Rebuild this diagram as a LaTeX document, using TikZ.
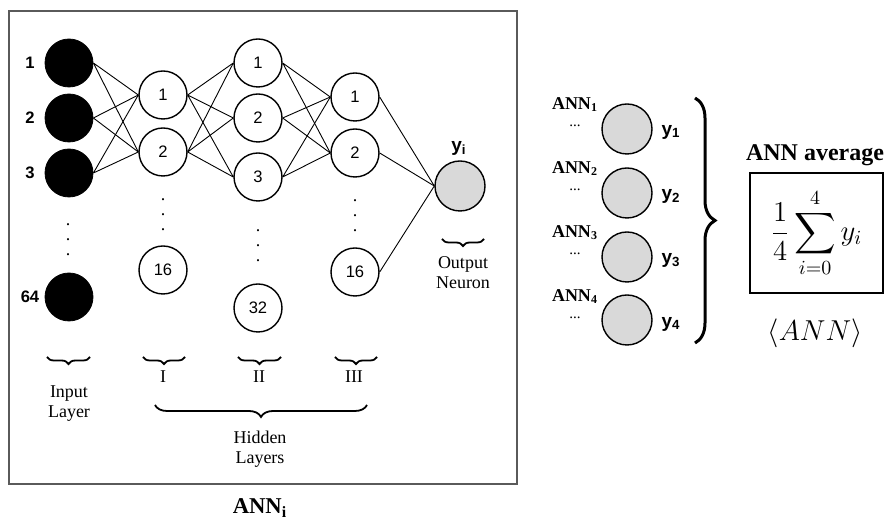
\documentclass[tikz,border=0pt]{standalone}
\usepackage{amsmath}
\usepackage{exscale}
\usepackage{fontspec}
\setmainfont{Liberation Serif}
\setsansfont{Liberation Sans}
\usepackage{tikz}
\usetikzlibrary{positioning,decorations.pathreplacing}
\definecolor{neurongray}{HTML}{D9D9D9}
\definecolor{framegray}{HTML}{5A5A5A}

\begin{document}
\begin{tikzpicture}[
  x=0.5pt, y=-0.5pt,
  inp/.style={draw, circle, fill=black, minimum size=24pt, inner sep=0pt},
  hid/.style={draw, circle, fill=white, line width=0.7pt, minimum size=24pt, inner sep=0pt, font=\sffamily\fontsize{8.3}{10}\selectfont},
  outn/.style={draw, circle, fill=neurongray, line width=0.7pt, minimum size=25pt, inner sep=0pt},
  num/.style={font=\sffamily\bfseries\fontsize{8.3}{10}\selectfont},
  ylbl/.style={font=\sffamily\bfseries\fontsize{9.5}{11}\selectfont},
  txt/.style={align=center, font=\fontsize{9}{10}\selectfont},
  annlbl/.style={font=\bfseries\fontsize{9}{10}\selectfont},
  vdot/.style={align=center, inner sep=0pt, font=\fontsize{9}{7.5}\selectfont},
  conn/.style={line width=0.45pt},
  brc/.style={decorate, decoration={brace, mirror, amplitude=3.5pt}, line width=0.9pt}]
  \useasboundingbox (0,0) rectangle (890,522);
  \draw[framegray, line width=0.6pt] (9,11) rectangle (517,484);
  % input layer
  \node[inp] (in1) at (69,63) {};
  \node[inp] (in2) at (69,118) {};
  \node[inp] (in3) at (69,173) {};
  \node[inp] (in64) at (69,297) {};
  \node[vdot] (vdin) at (68,240) {.\\.\\.};
  \node[num] (n1) at (30,63) {1};
  \node[num] (n2) at (30,118) {2};
  \node[num] (n3) at (30,173) {3};
  \node[num] (n64) at (30,297) {64};
  % hidden layers
  \node[hid] (ha1) at (163,95) {1};
  \node[hid] (ha2) at (163,152) {2};
  \node[hid] (ha16) at (163,270) {16};
  \node[vdot] (vda) at (163,215) {.\\.\\.};
  \node[hid] (hb1) at (258,63) {1};
  \node[hid] (hb2) at (258,118) {2};
  \node[hid] (hb3) at (258,177) {3};
  \node[hid] (hb32) at (258,308) {32};
  \node[vdot] (vdb) at (258,246) {.\\.\\.};
  \node[hid] (hc1) at (355,97) {1};
  \node[hid] (hc2) at (355,153) {2};
  \node[hid] (hc16) at (355,272) {16};
  \node[vdot] (vdc) at (355,216) {.\\.\\.};
  % output
  \node[outn] (out) at (460,186) {};
  \node[ylbl] (yi) at (459,148) {y\textsubscript{i}};
  \draw[conn] (in1.east) -- (ha1.west) (in1.east) -- (ha2.west);
  \draw[conn] (in2.east) -- (ha1.west) (in2.east) -- (ha2.west);
  \draw[conn] (in3.east) -- (ha1.west) (in3.east) -- (ha2.west);
  \draw[conn] (ha1.east) -- (hb1.west) (ha1.east) -- (hb2.west) (ha1.east) -- (hb3.west);
  \draw[conn] (ha2.east) -- (hb1.west) (ha2.east) -- (hb2.west) (ha2.east) -- (hb3.west);
  \draw[conn] (hb1.east) -- (hc1.west) (hb1.east) -- (hc2.west);
  \draw[conn] (hb2.east) -- (hc1.west) (hb2.east) -- (hc2.west);
  \draw[conn] (hb3.east) -- (hc1.west) (hb3.east) -- (hc2.west);
  \draw[conn] (hc1.east) -- (out.west);
  \draw[conn] (hc2.east) -- (out.west);
  \draw[conn] (hc16.east) -- (out.west);
  % braces and layer names
  \coordinate (bo-l) at (442,239);
  \coordinate (bo-r) at (484,239);
  \draw[brc] (bo-l) -- (bo-r);
  \node[txt] (lout) at (463,273) {Output\\Neuron};
  \coordinate (bin-l) at (47,357);
  \coordinate (bin-r) at (90,357);
  \coordinate (ba-l) at (143,357);
  \coordinate (ba-r) at (185,357);
  \coordinate (bb-l) at (238,357);
  \coordinate (bb-r) at (281,357);
  \coordinate (bc-l) at (335,357);
  \coordinate (bc-r) at (377,357);
  \draw[brc] (bin-l) -- (bin-r);
  \draw[brc] (ba-l) -- (ba-r);
  \draw[brc] (bb-l) -- (bb-r);
  \draw[brc] (bc-l) -- (bc-r);
  \node[txt] (lin) at (69,404) {Input\\Layer};
  \node[txt] (li) at (163,377) {I};
  \node[txt] (lii) at (259,377) {II};
  \node[txt] (liii) at (354,377) {III};
  \coordinate (bh-l) at (155,405);
  \coordinate (bh-r) at (367,405);
  \draw[brc, decoration={amplitude=6pt}] (bh-l) -- (bh-r);
  \node[txt] (lhid) at (260,449) {Hidden\\Layers};
  \node[font=\bfseries\fontsize{11.3}{13}\selectfont] (anni) at (260,508) {ANN\textsubscript{i}};
  % ensemble
  \node[outn] (a1) at (627,129) {};
  \node[outn] (a2) at (627,193) {};
  \node[outn] (a3) at (627,257) {};
  \node[outn] (a4) at (627,320) {};
  \node[annlbl] (t1) at (575,105) {ANN\textsubscript{1}};
  \node[annlbl] (t2) at (575,169) {ANN\textsubscript{2}};
  \node[annlbl] (t3) at (575,233) {ANN\textsubscript{3}};
  \node[annlbl] (t4) at (575,297) {ANN\textsubscript{4}};
  \node[font=\fontsize{7.5}{8}\selectfont] (d1) at (575,126) {...};
  \node[font=\fontsize{7.5}{8}\selectfont] (d2) at (575,190) {...};
  \node[font=\fontsize{7.5}{8}\selectfont] (d3) at (575,254) {...};
  \node[font=\fontsize{7.5}{8}\selectfont] (d4) at (575,318) {...};
  \node[ylbl] (y1) at (671,132) {y\textsubscript{1}};
  \node[ylbl] (y2) at (671,196) {y\textsubscript{2}};
  \node[ylbl] (y3) at (671,260) {y\textsubscript{3}};
  \node[ylbl] (y4) at (671,324) {y\textsubscript{4}};
  \coordinate (br-t) at (695,98);
  \coordinate (br-b) at (695,343);
  \draw[decorate, decoration={brace, amplitude=10pt}, line width=1.5pt] (br-t) -- (br-b);
  \node[font=\bfseries\fontsize{12}{14}\selectfont] (lavg) at (815,155) {ANN average};
  \node[draw, line width=1.3pt, minimum width=66.5pt, minimum height=60pt, font=\fontsize{14.4}{17}\selectfont] (avg) at (816.5,233) {$\displaystyle\frac{1}{4}\sum_{i=0}^{4}y_i$};
  \node[font=\fontsize{14.4}{17}\selectfont] (mean) at (815,333) {$\langle ANN\rangle$};
\end{tikzpicture}
\end{document}
